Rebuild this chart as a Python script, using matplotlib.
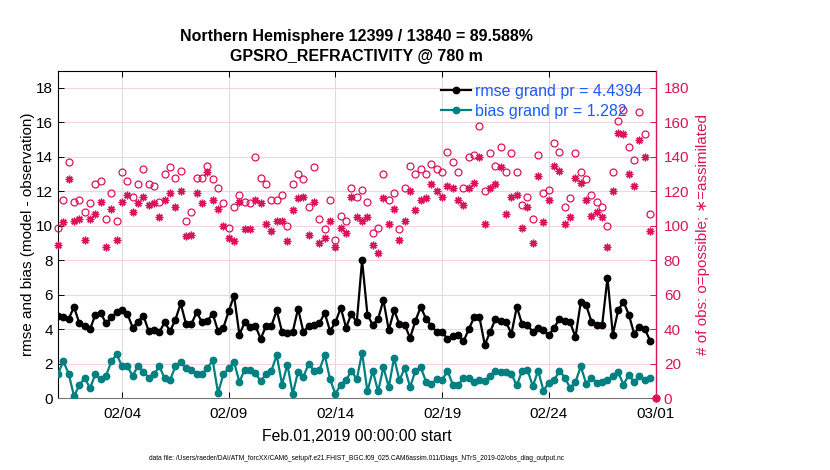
import numpy as np
import pandas as pd
import matplotlib
matplotlib.use("Agg")
import matplotlib.pyplot as plt

plt.rcParams['font.family'] = ['Liberation Sans', 'DejaVu Sans']

# ---------------- data ----------------
start = "2019-02-01 00:00"
n_times = 113  # 6-hourly bins, Feb 1 00Z .. Mar 1 00Z

rmse = [4.75, 4.7, 4.6, 5.3, 4.35, 4.2, 4.0, 4.85, 4.95, 4.35,
        4.7, 5.0, 5.1, 4.9, 4.1, 4.45, 4.8, 3.9, 3.95, 3.85,
        4.4, 3.9, 4.55, 5.5, 4.3, 4.3, 5.0, 4.4, 4.5, 4.9,
        3.9, 4.1, 5.05, 5.95, 3.7, 4.4, 4.15, 4.2, 3.45, 4.2,
        4.2, 5.1, 3.85, 3.8, 3.85, 5.2, 3.85, 4.2, 4.25, 4.35,
        4.95, 3.9, 4.4, 5.25, 4.1, 4.9, 4.4, 8.0, 4.85, 4.25,
        4.6, 5.7, 3.95, 5.1, 4.3, 4.25, 3.5, 4.5, 5.3, 4.6,
        4.2, 3.85, 3.85, 3.45, 3.6, 3.7, 3.3, 4.0, 4.7, 4.7,
        3.1, 3.85, 4.6, 4.5, 4.4, 3.75, 5.3, 4.3, 4.25, 3.85,
        4.1, 3.95, 3.65, 4.1, 4.6, 4.5, 4.4, 3.55, 5.6, 5.4,
        4.45, 4.25, 4.25, 7.0, 3.7, 5.1, 5.6, 4.85, 3.75, 4.15,
        4.0, 3.35, np.nan]

bias = [1.42, 2.15, 1.42, 0.13, 0.75, 1.2, 0.58, 1.4, 1.1, 1.3,
        2.15, 2.55, 1.85, 1.85, 1.3, 1.9, 1.55, 1.2, 1.4, 1.85,
        1.15, 1.05, 1.85, 2.1, 1.75, 1.65, 1.4, 1.4, 1.75, 2.2,
        0.3, 1.4, 1.75, 2.1, 0.95, 1.65, 1.65, 1.45, 1.0, 1.4,
        1.6, 2.5, 0.8, 1.95, 0.25, 1.55, 1.25, 2.0, 1.6, 1.65,
        2.5, 1.1, 0.25, 0.8, 1.05, 1.6, 1.1, 2.65, 0.4, 1.6,
        0.4, 1.8, 0.65, 2.35, 1.05, 1.75, 0.65, 1.6, 1.8, 0.95,
        0.85, 1.1, 1.05, 1.6, 0.8, 0.75, 1.2, 1.15, 0.95, 1.05,
        1.0, 1.3, 1.6, 1.5, 1.5, 1.4, 0.75, 1.6, 1.65, 0.7,
        1.6, 0.45, 0.9, 1.05, 1.6, 1.2, 0.6, 0.95, 1.85, 0.85,
        1.2, 0.9, 0.95, 1.05, 1.3, 1.5, 0.8, 1.35, 0.95, 1.3,
        1.05, 1.15, np.nan]

n_possible = [99, 115, 137, 114, 115, 108, 113, 124, 126, 104,
              119, 103, 131, 126, 117, 124, 133, 124, 123, 114,
              130, 134, 128, 132, 103, 108, 128, 128, 135, 127,
              122, 113, 99, 111, 118, 114, 113, 140, 128, 124,
              115, 115, 118, 100, 124, 130, 127, 111, 134, 104,
              98, 115, 92, 106, 103, 122, 117, 121, 114, 96,
              99, 130, 115, 119, 98, 122, 135, 130, 133, 130,
              136, 133, 131, 143, 137, 131, 122, 140, 141, 158,
              120, 142, 135, 146, 131, 142, 131, 112, 117, 104,
              141, 119, 121, 148, 143, 111, 116, 142, 131, 127,
              118, 114, 111, 100, 131, 161, 167, 146, 138, 166,
              153, 107, 0]

n_assim = [89, 102, 127, 103, 104, 92, 104, 107, 114, 88,
           110, 92, 114, 118, 108, 113, 117, 112, 113, 105,
           115, 119, 111, 120, 94, 95, 119, 113, 131, 115,
           110, 100, 93, 91, 114, 98, 98, 115, 113, 101,
           97, 103, 103, 91, 109, 116, 117, 95, 114, 90,
           93, 103, 88, 99, 96, 117, 105, 103, 105, 89,
           84, 116, 101, 110, 92, 103, 120, 109, 115, 116,
           124, 120, 117, 123, 122, 115, 112, 122, 125, 140,
           101, 122, 124, 134, 107, 117, 118, 99, 111, 90,
           129, 102, 115, 135, 132, 101, 105, 128, 125, 115,
           106, 108, 105, 88, 120, 154, 153, 130, 123, 150,
           140, 97, 0]

tick_dates = ["2019-02-04", "2019-02-09", "2019-02-14", "2019-02-19",
              "2019-02-24", "2019-03-01"]
tick_labels = ["02/04", "02/09", "02/14", "02/19", "02/24", "03/01"]
left_ticks = [0, 2, 4, 6, 8, 10, 12, 14, 16, 18]
right_ticks = [0, 20, 40, 60, 80, 100, 120, 140, 160, 180]

rmse_label = "rmse grand pr = 4.4394"
bias_label = "bias grand pr = 1.282"
title1 = "Northern Hemisphere 12399 / 13840 = 89.588%"
title2 = "GPSRO_REFRACTIVITY @ 780 m"
datafile = ("data file: /Users/raeder/DAI/ATM_forcXX/CAM6_setup/"
            "f.e21.FHIST_BGC.f09_025.CAM6assim.011/Diags_NTrS_2019-02/obs_diag_output.nc")

# ---------------- styling ----------------
RED = (0.86, 0.08, 0.35)
TEAL = (0.0, 0.5, 0.5)
BLUE = '#1a5aff'
FS = 11

times = pd.date_range(start, periods=n_times, freq="6h")

fig = plt.figure(figsize=(8.3, 4.7), dpi=100)
ax = fig.add_axes([58 / 830, (470 - 398.3) / 470, (655.5 - 58) / 830, (398.3 - 70.7) / 470])
ax2 = ax.twinx()

# grid on main axes
ax.set_axisbelow(True)
ax.xaxis.grid(True, color='#dcdcdc', lw=0.8)
ax.yaxis.grid(True, color='#f4d3df', lw=0.8)

l1, = ax.plot(times, rmse, '-o', color='black', lw=1.6, ms=4.6, mfc='black', mec='black', zorder=3)
l2, = ax.plot(times, bias, '-o', color=TEAL, lw=1.6, ms=4.6, mfc=TEAL, mec=TEAL, zorder=3)

ax2.plot(times, n_possible, 'o', ls='none', mfc='none', mec=RED, ms=5.0, mew=0.9, clip_on=False)
ax2.plot(times, n_assim, ls='none', marker=(8, 2, 0), color=RED, ms=5.5, mew=1.0, clip_on=False)

ax.set_xlim(times[0], times[-1])
ax.set_ylim(0, 19)
ax2.set_ylim(0, 190)

ax.set_xticks(pd.to_datetime(tick_dates))
ax.set_xticklabels(tick_labels)
ax.set_yticks(left_ticks)
ax2.set_yticks(right_ticks)

ax.tick_params(axis='both', direction='in', length=4, width=0.7, labelsize=FS, top=True, right=False)
ax.tick_params(axis='x', pad=6)
ax2.tick_params(axis='y', direction='in', length=4, width=0.7, colors=RED, labelsize=FS, pad=6)

for s in ['left', 'top']:
    ax.spines[s].set_color('black')
    ax.spines[s].set_linewidth(0.8)
ax.spines['bottom'].set_color('#777777')
ax.spines['bottom'].set_linewidth(0.8)
ax2.spines['right'].set_color(RED)
ax2.spines['right'].set_linewidth(0.9)
for s in ['left', 'top', 'bottom']:
    ax2.spines[s].set_visible(False)

ax.set_ylabel("rmse and bias (model - observation)", fontsize=FS, labelpad=1)
ax2.set_ylabel("# of obs: o=possible; \u2217=assimilated", fontsize=FS, color=RED, labelpad=5)
ax.set_xlabel("Feb.01,2019 00:00:00 start", fontsize=11.3, labelpad=6)

leg = ax2.legend([l1, l2], [rmse_label, bias_label], loc='upper right',
                 bbox_to_anchor=(0.977, 0.96), frameon=False, fontsize=11.5,
                 handlelength=1.9, handletextpad=0.2, labelspacing=0.3,
                 borderpad=0, borderaxespad=0)
for t in leg.get_texts():
    t.set_color(BLUE)

xc = (58 + 655.5) / 2 / 830
fig.text(xc, 1 - 37 / 470, title1, ha='center', va='center', fontsize=11.5, fontweight='bold')
fig.text(xc, 1 - 57 / 470, title2, ha='center', va='center', fontsize=11.5, fontweight='bold')
fig.text(xc, 1 - 458 / 470, datafile, ha='center', va='center', fontsize=4.8)

fig.savefig("out.png", dpi=100)
